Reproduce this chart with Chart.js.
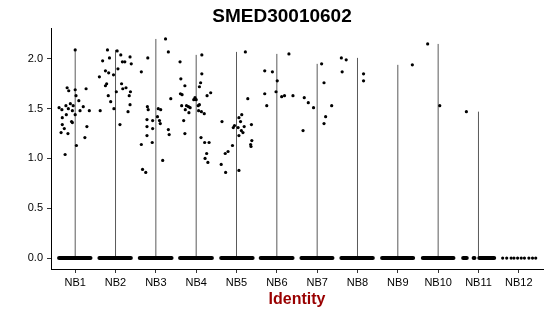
<!DOCTYPE html>
<html>
<head>
<meta charset="utf-8">
<script src="https://cdn.jsdelivr.net/npm/chart.js@4.4.1/dist/chart.umd.min.js"></script>
<style>
html, body { margin: 0; padding: 0; background: #fff; }
#wrap { width: 550px; height: 316px; }
</style>
</head>
<body>
<div id="wrap"><canvas id="chart" width="550" height="316"></canvas></div>
<script>
var chartTitle = 'SMED30010602';
var categories = ['NB1', 'NB2', 'NB3', 'NB4', 'NB5', 'NB6', 'NB7', 'NB8', 'NB9', 'NB10', 'NB11', 'NB12'];
var yTicks = [0, 0.5, 1, 1.5, 2];

// non-zero cells per identity: [jitter offset, expression]
var nb1 = [[0, 2.09], [-0.2, 1.71], [-0.16, 1.68], [0, 1.69], [0.27, 1.70], [0.02, 1.63], [0.09, 1.58], [-0.12, 1.55],
    [-0.23, 1.53], [0.2, 1.52], [-0.4, 1.51], [-0.33, 1.49], [-0.17, 1.50], [-0.05, 1.53], [-0.07, 1.48], [0.12, 1.48],
    [0.35, 1.48], [-0.22, 1.44], [-0.32, 1.41], [0, 1.44], [-0.09, 1.37], [-0.07, 1.36], [-0.32, 1.34], [-0.27, 1.30],
    [0.29, 1.32], [-0.35, 1.26], [-0.18, 1.25], [0.24, 1.21], [0.03, 1.13], [-0.25, 1.04]];
var nb2 = [[-0.2, 2.09], [0.04, 2.08], [-0.32, 1.98], [-0.15, 2.01], [0.13, 2.04], [0.36, 2.02], [0.17, 1.97], [0.23, 1.97],
    [0.39, 1.95], [0.06, 1.90], [-0.25, 1.88], [-0.17, 1.86], [-0.05, 1.84], [-0.4, 1.82], [-0.22, 1.75], [-0.25, 1.73],
    [0.15, 1.75], [0.26, 1.71], [0.18, 1.70], [0.02, 1.67], [0.37, 1.67], [-0.18, 1.63], [0.34, 1.63], [-0.12, 1.57],
    [0.36, 1.54], [-0.04, 1.50], [-0.38, 1.48], [0.31, 1.47], [0.11, 1.34]];
var nb3 = [[0.24, 2.20], [0.31, 2.07], [-0.2, 2.01], [-0.36, 1.87], [0.37, 1.60], [-0.21, 1.52], [-0.19, 1.49], [0.06, 1.50],
    [0.12, 1.49], [0.04, 1.42], [-0.22, 1.39], [-0.08, 1.38], [0.09, 1.38], [0.11, 1.35], [-0.22, 1.32], [-0.08, 1.30],
    [0.31, 1.29], [0.33, 1.24], [-0.22, 1.23], [-0.09, 1.16], [-0.36, 1.14], [0.17, 0.98], [-0.33, 0.89], [-0.25, 0.86]];
var nb4 = [[0.14, 2.04], [-0.4, 1.97], [0.14, 1.85], [-0.38, 1.80], [-0.28, 1.73], [0.11, 1.76], [0.08, 1.72], [0.36, 1.66],
    [-0.39, 1.65], [-0.35, 1.64], [0.27, 1.63], [-0.03, 1.61], [-0.06, 1.59], [0, 1.59], [-0.36, 1.53], [-0.24, 1.53],
    [-0.19, 1.52], [-0.15, 1.51], [0.05, 1.53], [0.08, 1.54], [-0.27, 1.49], [-0.18, 1.46], [0.06, 1.48], [0.13, 1.47],
    [0.2, 1.45], [-0.31, 1.38], [-0.28, 1.25], [0.12, 1.21], [0.21, 1.16], [0.32, 1.16], [0.26, 1.05], [0.22, 1.00], [0.29, 0.96]];
var nb5 = [[0.22, 2.07], [0.28, 1.60], [-0.36, 1.37], [0.13, 1.44], [0.06, 1.41], [0.1, 1.37], [-0.05, 1.33], [-0.08, 1.31],
    [0.04, 1.31], [0.19, 1.32], [0.37, 1.34], [0.12, 1.28], [0.16, 1.26], [0.06, 1.23], [0.38, 1.18], [0.35, 1.14],
    [0.36, 1.12], [-0.1, 1.13], [-0.21, 1.07], [-0.28, 1.05], [-0.38, 0.94], [-0.27, 0.86], [0.06, 0.88]];
var nb6 = [[0.3, 2.05], [-0.3, 1.88], [-0.11, 1.87], [0.01, 1.78], [-0.3, 1.65], [-0.02, 1.67], [0.12, 1.62], [0.19, 1.63],
    [0.4, 1.63], [-0.25, 1.53]];
var nb7 = [[0.11, 1.95], [0.17, 1.76], [-0.32, 1.61], [-0.22, 1.56], [-0.09, 1.51], [0.36, 1.53], [0.21, 1.42], [0.17, 1.35], [-0.35, 1.28]];
var nb8 = [[-0.4, 2.01], [-0.28, 1.99], [-0.38, 1.87], [0.15, 1.85], [0.15, 1.78]];
var nb9 = [[0.36, 1.94]];
var nb10 = [[-0.26, 2.15], [0.04, 1.53]];
var nb11 = [[-0.3, 1.47]];
var nb12 = [];

// cells at zero: jitter extent of the dense band per identity, and the few single cells of NB12
var zeroSpans = [
    [[-0.4, 0.38]], [[-0.4, 0.38]], [[-0.4, 0.39]], [[-0.4, 0.39]], [[-0.38, 0.4]], [[-0.4, 0.39]],
    [[-0.39, 0.38]], [[-0.4, 0.38]], [[-0.39, 0.38]], [[-0.38, 0.38]],
    [[-0.38, -0.29], [-0.12, -0.1], [0.02, 0.39]], []];
var zeroDotsNB12 = [-0.4, -0.3, -0.19, -0.12, -0.03, 0.06, 0.14, 0.25, 0.34, 0.42];

var groups = [nb1, nb2, nb3, nb4, nb5, nb6, nb7, nb8, nb9, nb10, nb11, nb12];

var datasets = [];
var points = [];
groups.forEach(function (g, i) {
    var pos = i + 1;
    g.forEach(function (p) { points.push({ x: pos + p[0], y: p[1] }); });
    if (g.length) {
        var top = Math.max.apply(null, g.map(function (p) { return p[1]; }));
        datasets.push({
            data: [{ x: pos, y: 0 }, { x: pos, y: top }],
            showLine: true, borderColor: '#5a5a5a', borderWidth: 1, pointRadius: 0, order: 2
        });
    }
    zeroSpans[i].forEach(function (s) {
        datasets.push({
            data: [{ x: pos + s[0], y: 0 }, { x: pos + s[1], y: 0 }],
            showLine: true, borderColor: '#000', borderWidth: 4, borderCapStyle: 'round',
            pointRadius: 0, order: 1
        });
    });
});
zeroDotsNB12.forEach(function (o) { points.push({ x: 12 + o, y: 0 }); });
datasets.push({
    data: points, pointRadius: 1.6, pointBackgroundColor: '#000', pointBorderWidth: 0, order: 0
});

var titlePlugin = {
    id: 'plotTitle',
    afterDraw: function (chart) {
        var ctx = chart.ctx;
        ctx.save();
        ctx.font = 'bold 19px "Liberation Sans", Arial, sans-serif';
        ctx.fillStyle = '#000';
        ctx.textAlign = 'center';
        ctx.textBaseline = 'alphabetic';
        ctx.fillText(chartTitle, 282, 21.5);
        ctx.restore();
    }
};

var tickFont = { family: '"Liberation Sans", Arial, sans-serif', size: 11 };

new Chart(document.getElementById('chart'), {
    type: 'scatter',
    data: { datasets: datasets },
    options: {
        responsive: false,
        animation: false,
        devicePixelRatio: 1,
        layout: { padding: { top: 28, right: 7, left: 0, bottom: 0 } },
        plugins: { legend: { display: false }, tooltip: { enabled: false } },
        scales: {
            x: {
                type: 'linear', min: 0.4, max: 12.6,
                afterBuildTicks: function (s) { s.ticks = categories.map(function (c, i) { return { value: i + 1 }; }); },
                afterFit: function (s) { s.height = 47; },
                ticks: {
                    color: '#000', font: tickFont, padding: 3, maxRotation: 0, autoSkip: false,
                    callback: function (v) { return categories[Math.round(v) - 1]; }
                },
                grid: { drawOnChartArea: false, drawTicks: true, tickLength: 4, color: '#333' },
                border: { color: '#000', width: 1 },
                title: {
                    display: true, text: 'Identity', color: '#990000',
                    font: { family: '"Liberation Sans", Arial, sans-serif', size: 16, weight: 'bold' },
                    padding: { top: 0, bottom: 7 }
                }
            },
            y: {
                type: 'linear', min: -0.11, max: 2.31,
                afterBuildTicks: function (s) { s.ticks = yTicks.map(function (v) { return { value: v }; }); },
                afterFit: function (s) { s.width = 51; },
                ticks: {
                    color: '#000', font: tickFont, padding: 4,
                    callback: function (v) { return v.toFixed(1); }
                },
                grid: { drawOnChartArea: false, drawTicks: true, tickLength: 4, color: '#333' },
                border: { color: '#000', width: 1 }
            }
        }
    },
    plugins: [titlePlugin]
});
</script>
</body>
</html>
